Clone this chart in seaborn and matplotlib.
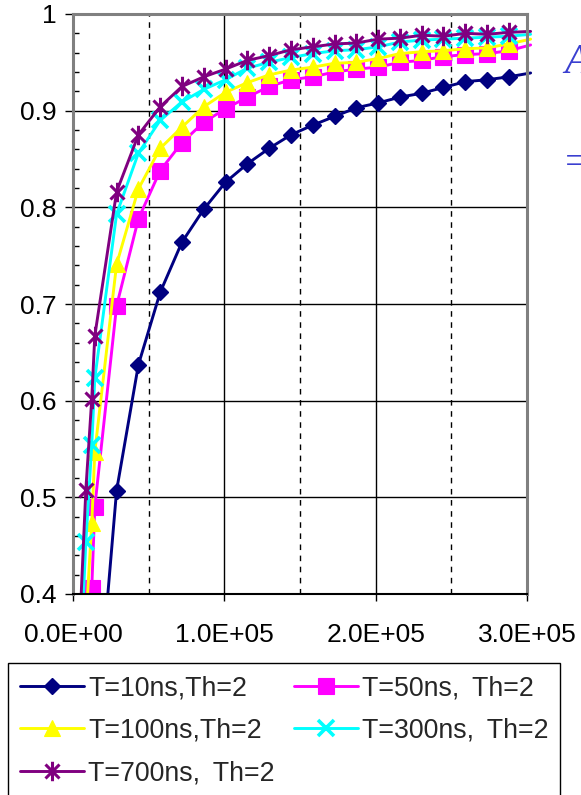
import numpy as np
import pandas as pd
import matplotlib
matplotlib.use("Agg")
import matplotlib.pyplot as plt
import seaborn as sns
from matplotlib.path import Path
from matplotlib.patches import Rectangle
from matplotlib.lines import Line2D

sns.set_theme(style="white")
plt.rcParams['font.family'] = ['Liberation Sans', 'DejaVu Sans']

# ---------------- data ----------------
X_MAIN = [14400, 28800, 43200, 57600, 72000, 86400, 100800, 115200, 129600,
          144000, 158400, 172800, 187200, 201600, 216000, 230400, 244800,
          259200, 273600, 288000, 302400]
X_LOW = [4000, 8500, 12400]

T10 = [0.240, 0.507, 0.637, 0.712, 0.764, 0.798, 0.826, 0.845, 0.861, 0.875,
       0.885, 0.894, 0.903, 0.908, 0.914, 0.918, 0.924, 0.930, 0.932, 0.935,
       0.939]
T50 = [0.200, 0.330, 0.406,
       0.490, 0.698, 0.788, 0.838, 0.867, 0.888, 0.902, 0.914, 0.925, 0.932,
       0.935, 0.940, 0.943, 0.945, 0.950, 0.952, 0.956, 0.958, 0.959, 0.962,
       0.968]
T100 = [0.250, 0.370, 0.473,
        0.547, 0.741, 0.819, 0.861, 0.883, 0.904, 0.919, 0.929, 0.937, 0.942,
        0.945, 0.949, 0.950, 0.954, 0.959, 0.961, 0.962, 0.964, 0.965, 0.969,
        0.974]
T300 = [0.300, 0.454, 0.554,
        0.623, 0.793, 0.856, 0.890, 0.909, 0.922, 0.932, 0.944, 0.950, 0.955,
        0.959, 0.962, 0.963, 0.966, 0.971, 0.973, 0.974, 0.975, 0.976, 0.977,
        0.979]
T700 = [0.350, 0.508, 0.602,
        0.667, 0.816, 0.875, 0.904, 0.925, 0.935, 0.943, 0.952, 0.957, 0.963,
        0.966, 0.969, 0.970, 0.974, 0.975, 0.978, 0.977, 0.980, 0.979, 0.981,
        0.982]

LABELS = ["T=10ns,Th=2", "T=50ns, \u2009Th=2", "T=100ns,Th=2",
          "T=300ns, \u2009Th=2", "T=700ns, \u2009Th=2"]
X_TICKS = [0, 100000, 200000, 300000]
X_TICK_LABELS = ["0.0E+00", "1.0E+05", "2.0E+05", "3.0E+05"]
X_DASHED = [50000, 150000, 250000]
Y_TICKS = [0.4, 0.5, 0.6, 0.7, 0.8, 0.9, 1.0]
Y_TICK_LABELS = ["0.4", "0.5", "0.6", "0.7", "0.8", "0.9", "1"]
XMAX = 300000

# ---------------- styles ----------------
star = Path([(0, -1), (0, 1), (-0.72, -0.72), (0.72, 0.72), (-0.72, 0.72), (0.72, -0.72)],
            [Path.MOVETO, Path.LINETO, Path.MOVETO, Path.LINETO, Path.MOVETO, Path.LINETO])

series = [
    (LABELS[0], X_MAIN, T10, "#000080", "D", 8.0, 1.0),
    (LABELS[1], X_LOW + X_MAIN, T50, "#FF00FF", "s", 11.0, 0.8),
    (LABELS[2], X_LOW + X_MAIN, T100, "#FFFF00", "^", 12.0, 0.8),
    (LABELS[3], X_LOW + X_MAIN, T300, "#00FFFF", "x", 11.0, 2.6),
    (LABELS[4], X_LOW + X_MAIN, T700, "#800080", star, 14.0, 2.2),
]

fig = plt.figure(figsize=(5.81, 7.95), dpi=100)
fig.patch.set_facecolor("white")
ax = fig.add_axes([73 / 581, 1 - 594 / 795, 454 / 581, 580 / 795])
ax.set_facecolor("white")

clip_rect = Rectangle((0, 0), 1.023, 1.0, transform=ax.transAxes, facecolor="none")

handles = {}
for label, xs, ys, color, marker, ms, mew in series:
    df = pd.DataFrame({"x": xs, "y": ys})
    idx = [i for i, v in enumerate(xs) if v <= XMAX]
    sns.lineplot(data=df, x="x", y="y", ax=ax, color=color, lw=2.1,
                 marker=marker, markersize=ms, markeredgewidth=mew,
                 markeredgecolor=color, markerfacecolor=color,
                 markevery=idx, estimator=None, sort=False, legend=False)
    line = ax.lines[-1]
    line.set_clip_path(clip_rect)
    handles[label] = Line2D([0], [0], color=color, lw=2.1, marker=marker,
                            markersize=ms, markeredgewidth=mew,
                            markeredgecolor=color, markerfacecolor=color)

ax.set_xlim(0, XMAX)
ax.set_ylim(0.4, 1.0)
ax.set_xlabel("")
ax.set_ylabel("")

ax.set_xticks(X_TICKS)
ax.set_xticklabels(X_TICK_LABELS)
ax.set_xticks(X_DASHED, minor=True)
ax.set_yticks(Y_TICKS)
ax.set_yticklabels(Y_TICK_LABELS)
ax.set_yticks([v for v in np.round(np.arange(0.42, 1.0, 0.02), 2)
               if not np.isclose(v * 10, round(v * 10))], minor=True)

ax.set_axisbelow(True)
ax.grid(False)
ax.yaxis.grid(True, which="major", color="black", lw=1.0)
ax.xaxis.grid(True, which="major", color="black", lw=1.0)
ax.xaxis.grid(True, which="minor", color="black", lw=1.0, ls=(0, (4, 4)))

ax.tick_params(axis="y", which="major", direction="out", length=6, width=1,
               color="black", labelsize=19, pad=6, labelcolor="black", left=True)
ax.tick_params(axis="y", which="minor", direction="in", length=4, width=1,
               color="black", left=True)
ax.tick_params(axis="x", which="major", direction="out", length=5, width=1,
               color="black", labelsize=19, pad=16, labelcolor="black", bottom=True)
ax.tick_params(axis="x", which="minor", length=0)

for side in ["top", "right", "left"]:
    ax.spines[side].set_color("#808080")
    ax.spines[side].set_linewidth(2.2)
ax.spines["bottom"].set_color("black")
ax.spines["bottom"].set_linewidth(1.5)

order = [LABELS[0], LABELS[2], LABELS[4], LABELS[1], LABELS[3]]
leg = fig.legend([handles[k] for k in order], order, ncol=2, loc="upper left",
                 bbox_to_anchor=(8 / 581, 1 - 663 / 795),
                 bbox_transform=fig.transFigure, frameon=False,
                 handlelength=2.4, handletextpad=0.15, columnspacing=0.7,
                 borderpad=0.45, labelspacing=0.62, borderaxespad=0,
                 numpoints=1,
                 prop={"family": ["Liberation Sans", "DejaVu Sans"], "size": 19.3})

# legend frame (box runs off the bottom edge, as in the reference)
fig.patches.append(Rectangle((8 / 581, -0.05), 551.5 / 581, (795 - 663) / 795 + 0.05,
                             transform=fig.transFigure, fill=False,
                             edgecolor="black", lw=1.0))

blue = "#3a3fd0"
fig.text(564 / 581, 1 - 73 / 795, "A", fontsize=30, color=blue, style="italic",
         family=["Liberation Serif", "DejaVu Serif"], ha="left", va="baseline")
fig.text(565 / 581, 1 - 164 / 795, "=", fontsize=30, color=blue,
         family=["Liberation Serif", "DejaVu Serif"], ha="left", va="center")

fig.savefig("out.png", dpi=100, facecolor="white")
